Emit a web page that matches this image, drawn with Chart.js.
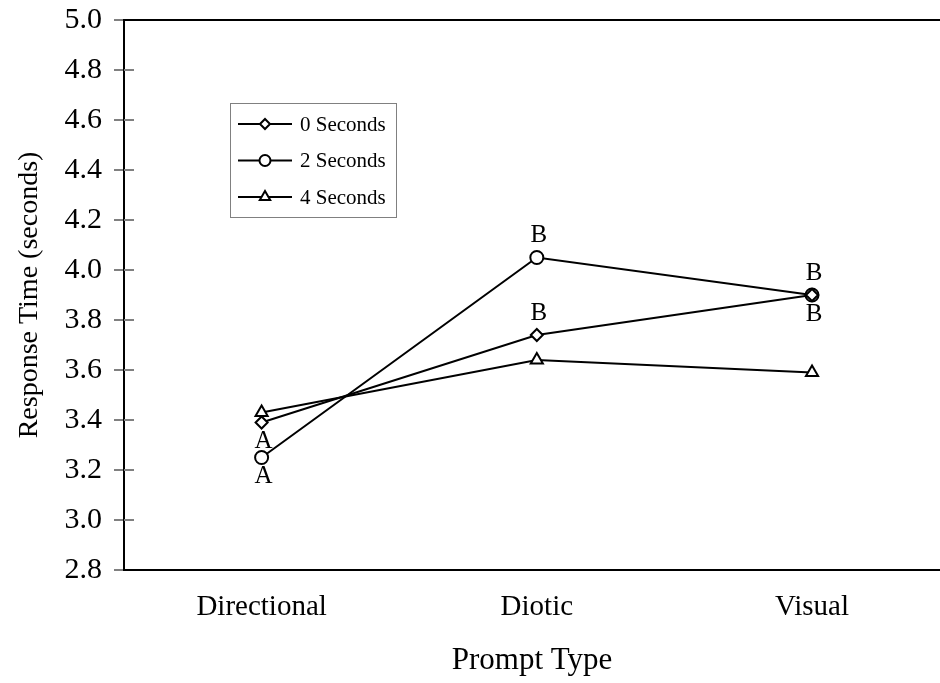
<!DOCTYPE html>
<html>
<head>
<meta charset="utf-8">
<script src="https://cdn.jsdelivr.net/npm/chart.js@4"></script>
<style>
  html, body { margin: 0; padding: 0; background: #fff; }
  #wrap { width: 940px; height: 683px; }
</style>
</head>
<body>
<div id="wrap"><canvas id="c" width="940" height="683"></canvas></div>
<script>
// Prompt types along the horizontal axis
const categories = ['Directional', 'Diotic', 'Visual'];

// Delay conditions and mean response times (seconds)
const seriesNames = ['0 Seconds', '2 Seconds', '4 Seconds'];
const zeroSeconds = [3.39, 3.74, 3.90];
const twoSeconds  = [3.25, 4.05, 3.90];
const fourSeconds = [3.43, 3.64, 3.59];

// Y tick values
const yTicks = [2.8, 3.0, 3.2, 3.4, 3.6, 3.8, 4.0, 4.2, 4.4, 4.6, 4.8, 5.0];

// Significance group letters: series index, category index, letter, side
const groupLetters = [
  [0, 0, 'A', 'below'],
  [1, 0, 'A', 'below'],
  [1, 1, 'B', 'above'],
  [0, 1, 'B', 'above'],
  [1, 2, 'B', 'above'],
  [0, 2, 'B', 'below']
];

const serif = "'Liberation Serif', 'Times New Roman', serif";
const markerStyles = ['rectRot', 'circle', 'triangle'];
const markerRadius = [6, 6.5, 7];
const seriesValues = [zeroSeconds, twoSeconds, fourSeconds];

const datasets = seriesNames.map((name, i) => ({
  label: name,
  data: seriesValues[i].map((v, k) => ({ x: k, y: v })),
  borderColor: '#000',
  borderWidth: 2,
  backgroundColor: '#fff',
  pointStyle: markerStyles[i],
  pointRadius: markerRadius[i],
  pointBorderWidth: 2,
  pointBackgroundColor: '#fff',
  pointBorderColor: '#000',
  tension: 0,
  fill: false
}));

// Frame pieces: top border line and inward halves of the y ticks
const framePlugin = {
  id: 'frame',
  beforeDatasetsDraw(chart) {
    const { ctx, chartArea } = chart;
    const y = chart.scales.y;
    ctx.save();
    ctx.strokeStyle = '#000';
    ctx.lineWidth = 2;
    ctx.beginPath();
    ctx.moveTo(chartArea.left - 1, chartArea.top);
    ctx.lineTo(chartArea.right, chartArea.top);
    ctx.stroke();
    ctx.strokeStyle = '#808080';
    ctx.lineWidth = 2;
    y.ticks.forEach(t => {
      const py = y.getPixelForValue(t.value);
      if (py <= chartArea.top + 1 || py >= chartArea.bottom - 1) return;
      ctx.beginPath();
      ctx.moveTo(chartArea.left, py);
      ctx.lineTo(chartArea.left + 10, py);
      ctx.stroke();
    });
    ctx.restore();
  }
};

// Letters marking groups that differ
const lettersPlugin = {
  id: 'letters',
  afterDatasetsDraw(chart) {
    const { ctx } = chart;
    const xs = chart.scales.x, ys = chart.scales.y;
    ctx.save();
    ctx.fillStyle = '#000';
    ctx.font = '25px ' + serif;
    ctx.textAlign = 'center';
    ctx.textBaseline = 'middle';
    groupLetters.forEach(([s, k, letter, side]) => {
      const px = xs.getPixelForValue(k);
      const py = ys.getPixelForValue(seriesValues[s][k]);
      const dy = side === 'above' ? -22 : 19;
      ctx.fillText(letter, px + 2, py + dy);
    });
    ctx.restore();
  }
};

// Boxed legend inside the plot area
const boxLegendPlugin = {
  id: 'boxLegend',
  afterDatasetsDraw(chart) {
    const { ctx } = chart;
    const bx = 230, by = 103, bw = 166, bh = 114;
    ctx.save();
    ctx.fillStyle = '#fff';
    ctx.fillRect(bx, by, bw, bh);
    ctx.strokeStyle = '#808080';
    ctx.lineWidth = 1;
    ctx.strokeRect(bx + 0.5, by + 0.5, bw, bh);
    ctx.font = '21px ' + serif;
    ctx.textBaseline = 'middle';
    ctx.textAlign = 'left';
    chart.data.datasets.forEach((ds, i) => {
      const ey = 124 + i * 36.5;
      ctx.strokeStyle = '#000';
      ctx.lineWidth = 2;
      ctx.beginPath();
      ctx.moveTo(238, ey);
      ctx.lineTo(292, ey);
      ctx.stroke();
      ctx.fillStyle = '#fff';
      ctx.strokeStyle = '#000';
      ctx.lineWidth = 2;
      Chart.helpers.drawPoint(ctx, {
        pointStyle: ds.pointStyle,
        radius: ds.pointRadius - 1,
        rotation: 0,
        borderWidth: 2
      }, 265, ey);
      ctx.fillStyle = '#000';
      ctx.fillText(ds.label, 300, ey + 1);
    });
    ctx.restore();
  }
};

new Chart(document.getElementById('c'), {
  type: 'line',
  data: { datasets },
  options: {
    responsive: false,
    animation: false,
    layout: { autoPadding: false, padding: { top: 20, right: 0, left: 0, bottom: 0 } },
    plugins: {
      legend: { display: false },
      tooltip: { enabled: false }
    },
    scales: {
      x: {
        type: 'linear',
        min: -0.5,
        max: 2.465,
        afterBuildTicks(scale) {
          scale.ticks = categories.map((c, k) => ({ value: k }));
        },
        afterFit(scale) {
          scale.height = 113;
          scale.paddingLeft = 0;
          scale.paddingRight = 0;
        },
        grid: { display: false, drawTicks: false },
        border: { display: true, color: '#000', width: 2 },
        ticks: {
          padding: 20,
          color: '#000',
          font: { family: serif, size: 29 },
          callback: (v) => categories[v]
        },
        title: {
          display: true,
          text: 'Prompt Type',
          color: '#000',
          font: { family: serif, size: 31 },
          padding: { top: 18, bottom: 4 }
        }
      },
      y: {
        min: 2.8,
        max: 5.0,
        afterBuildTicks(scale) {
          scale.ticks = yTicks.map(v => ({ value: v }));
        },
        afterFit(scale) {
          scale.width = 124;
          scale.paddingTop = 0;
          scale.paddingBottom = 0;
        },
        grid: {
          drawOnChartArea: false,
          drawTicks: true,
          tickLength: 10,
          color: '#808080',
          lineWidth: 2
        },
        border: { display: true, color: '#000', width: 2 },
        ticks: {
          padding: 12,
          color: '#000',
          font: { family: serif, size: 30 },
          callback: (v) => Number(v).toFixed(1)
        },
        title: {
          display: true,
          text: 'Response Time (seconds)',
          color: '#000',
          font: { family: serif, size: 28 },
          padding: { top: 13, bottom: 0 }
        }
      }
    }
  },
  plugins: [framePlugin, lettersPlugin, boxLegendPlugin]
});
</script>
</body>
</html>
